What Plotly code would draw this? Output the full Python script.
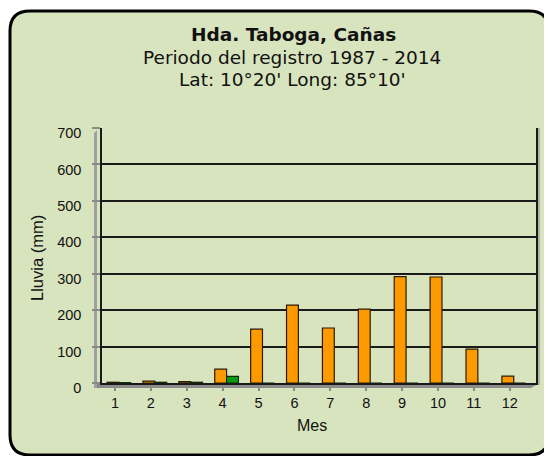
import plotly.graph_objects as go

meses = [1, 2, 3, 4, 5, 6, 7, 8, 9, 10, 11, 12]
tick_labels = ["1", "2", "3", "4", "5", "6", "7", "8", "9", "10", "11", "12"]
lluvia_a = [2, 5, 4, 38, 148, 214, 151, 203, 292, 291, 93, 19]
lluvia_b = [1, 2, 2, 18, 0, 0, 0, 0, 0, 0, 0, 0]

OFF = 8  # page body margin
W, H = 552 - OFF, 456 - OFF
# plot area in page pixels: left 102, right 536, top 128, bottom 383
L, R, T, B = 102 - OFF, (552 - 536), 128 - OFF, (456 - 383)
PW, PH = W - L - R, H - T - B


def px(x):
    return (x - OFF - L) / PW


def py(y):
    return (H - B - (y - OFF)) / PH


fig = go.Figure()
fig.add_trace(go.Bar(
    x=meses, y=lluvia_a, width=0.33, offset=-0.22,
    marker=dict(color="#FF9900", line=dict(color="#2a1c00", width=1.2)),
    showlegend=False,
))
fig.add_trace(go.Bar(
    x=meses, y=lluvia_b, width=0.33, offset=0.11,
    marker=dict(color="#0E9A0E", line=dict(color="#0a2a0a", width=1.2)),
    showlegend=False,
))

# rounded background frame (page pixels)
x0, x1, y0, y1, rr = 10, 549, 11, 455, 20
path = (
    f"M {px(x0 + rr)},{py(y0)} L {px(x1 - rr)},{py(y0)} "
    f"Q {px(x1)},{py(y0)} {px(x1)},{py(y0 + rr)} "
    f"L {px(x1)},{py(y1 - rr)} Q {px(x1)},{py(y1)} {px(x1 - rr)},{py(y1)} "
    f"L {px(x0 + rr)},{py(y1)} Q {px(x0)},{py(y1)} {px(x0)},{py(y1 - rr)} "
    f"L {px(x0)},{py(y0 + rr)} Q {px(x0)},{py(y0)} {px(x0 + rr)},{py(y0)} Z"
)
shapes = [
    dict(type="path", path=path, xref="paper", yref="paper",
         fillcolor="#D8E4BD", line=dict(color="#000000", width=3), layer="below"),
    # 3D floor
    dict(type="path", xref="paper", yref="paper", layer="below",
         path=f"M {px(96)},{py(383)} L {px(536)},{py(383)} L {px(536)},{py(385)} "
              f"L {px(531)},{py(388)} L {px(96)},{py(388)} Z",
         fillcolor="#8a8a8a", line=dict(width=0)),
    # 3D left wall
    dict(type="path", xref="paper", yref="paper", layer="below",
         path=f"M {px(94)},{py(133)} L {px(97)},{py(130)} L {px(97)},{py(388)} "
              f"L {px(94)},{py(388)} Z",
         fillcolor="#a0a0a0", line=dict(width=0)),
    # 3D right side
    dict(type="rect", xref="paper", yref="paper", layer="below",
         x0=px(536), x1=px(540), y0=py(385), y1=py(128),
         fillcolor="#b0b8a0", line=dict(width=0)),
]

title_font = "DejaVu Sans, Verdana, sans-serif"
ann = [
    dict(text="<b>Hda. Taboga, Cañas</b>", x=px(293), y=py(35)),
    dict(text="Periodo del registro 1987 - 2014", x=px(292), y=py(57)),
    dict(text="Lat: 10°20' Long: 85°10'", x=px(292), y=py(79)),
]
annotations = [
    dict(text=a["text"], x=a["x"], y=a["y"], xref="paper", yref="paper",
         showarrow=False, xanchor="center", yanchor="middle",
         font=dict(family=title_font, size=18.5, color="#111111"))
    for a in ann
]
annotations.append(dict(text="Mes", x=px(312), y=py(425), xref="paper", yref="paper",
                        showarrow=False, xanchor="center", yanchor="middle",
                        font=dict(family="Liberation Sans, Arial, sans-serif", size=16, color="#111111")))
annotations.append(dict(text="Lluvia (mm)", x=px(37), y=py(258), xref="paper", yref="paper",
                        showarrow=False, xanchor="center", yanchor="middle", textangle=-90,
                        font=dict(family="Liberation Sans, Arial, sans-serif", size=16.5, color="#111111")))

fig.update_layout(
    width=W, height=H,
    margin=dict(l=L, r=R, t=T, b=B, pad=0),
    paper_bgcolor="#FFFFFF",
    plot_bgcolor="rgba(0,0,0,0)",
    barmode="overlay",
    shapes=shapes,
    annotations=annotations,
    font=dict(family="Liberation Sans, Arial, sans-serif", size=14, color="#111111"),
    xaxis=dict(
        range=[0.639, 12.73], tickmode="array", tickvals=meses, ticktext=tick_labels,
        showgrid=False, zeroline=False, showline=True, linecolor="#1a1a1a", linewidth=1.5,
        ticks="outside", tickson="boundaries", ticklen=6, tickcolor="#8a8a8a", tickwidth=1.5,
        tickfont=dict(size=14.5),
    ),
    yaxis=dict(
        range=[0, 700], tickvals=[0, 100, 200, 300, 400, 500, 600, 700],
        showgrid=True, gridcolor="#1a1a1a", gridwidth=1.5,
        zeroline=False, showline=True, mirror=True, linecolor="#1a1a1a", linewidth=1.5,
        ticks="outside", ticklen=8, tickcolor="#8a8a8a", tickwidth=1.5,
        tickfont=dict(size=14.5), ticklabelshift=5, ticklabelstandoff=8,
    ),
)

fig.write_html("out.html")
